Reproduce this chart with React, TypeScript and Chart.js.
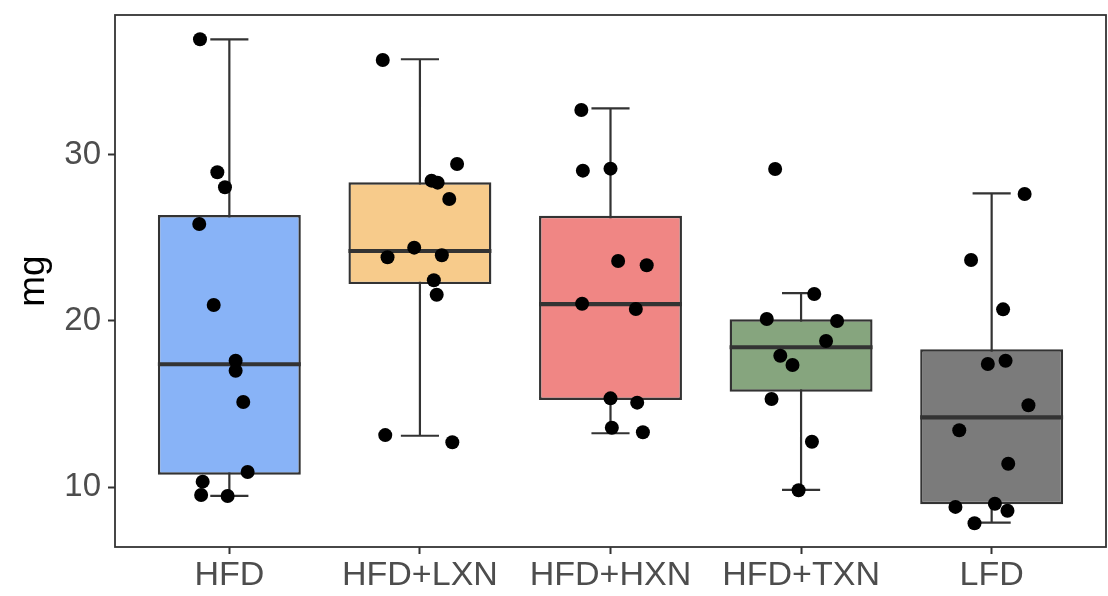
import React, { useEffect, useRef } from "react";
import { Chart, registerables } from "chart.js";

Chart.register(...registerables);

// Groups along the x axis
const categories = ["HFD", "HFD+LXN", "HFD+HXN", "HFD+TXN", "LFD"];
const boxFills = ["#88b3f7", "#f7cb8b", "#f08684", "#86a57e", "#7b7b7b"];

// Box-plot summaries per group (mg)
const whiskerLow = [9.48, 13.1, 13.25, 9.84, 7.87];
const quartile1 = [10.76, 22.22, 15.25, 15.75, 8.98];
const medians = [17.4, 24.21, 21.02, 18.42, 14.21];
const quartile3 = [26.37, 28.34, 26.33, 20.1, 18.3];
const whiskerHigh = [36.94, 35.74, 32.79, 21.67, 27.68];

// Individual measurements per group and their horizontal jitter
const hfdValues = [36.94, 28.94, 28.04, 25.83, 20.96, 17.61, 17.01, 15.13, 10.92, 10.34, 9.54, 9.48];
const hfdJitter = [-0.154, -0.063, -0.023, -0.158, -0.082, 0.033, 0.033, 0.073, 0.096, -0.14, -0.148, -0.009];
const lxnValues = [35.69, 29.44, 28.44, 28.32, 27.34, 24.41, 23.95, 23.83, 22.45, 21.58, 13.14, 12.71];
const lxnJitter = [-0.195, 0.195, 0.061, 0.093, 0.154, -0.03, 0.115, -0.17, 0.073, 0.088, -0.182, 0.17];
const hxnValues = [32.69, 29.04, 29.16, 23.61, 23.35, 21.04, 20.72, 15.35, 15.09, 13.58, 13.31];
const hxnJitter = [-0.153, -0.145, 0.0, 0.04, 0.19, -0.149, 0.133, 0.0, 0.14, 0.007, 0.17];
const txnValues = [29.14, 21.62, 20.12, 20.0, 18.8, 17.91, 17.35, 15.31, 12.74, 9.82];
const txnJitter = [-0.136, 0.069, -0.18, 0.189, 0.131, -0.109, -0.045, -0.155, 0.057, -0.013];
const lfdValues = [27.64, 23.67, 20.7, 17.41, 17.61, 14.93, 13.43, 11.42, 8.82, 9.01, 8.59, 7.84];
const lfdJitter = [0.173, -0.108, 0.06, -0.02, 0.073, 0.193, -0.17, 0.087, -0.19, 0.017, 0.083, -0.09];

const yTicks = [10, 20, 30];
const yMin = 6.41;
const yMax = 38.4;

const groupValues = [hfdValues, lxnValues, hxnValues, txnValues, lfdValues];
const groupJitter = [hfdJitter, lxnJitter, hxnJitter, txnJitter, lfdJitter];

const INK = "#333333";
const FONT = "'Liberation Sans', Arial, sans-serif";
const BOX_HALF = 0.375;
const CAP_HALF = 0.1;

const panelBorder = {
  id: "panelBorder",
  afterDatasetsDraw(chart: any) {
    const { ctx, chartArea } = chart;
    ctx.save();
    ctx.strokeStyle = INK;
    ctx.lineWidth = 1.8;
    ctx.strokeRect(chartArea.left, chartArea.top, chartArea.right - chartArea.left, chartArea.bottom - chartArea.top);
    ctx.restore();
  },
};

export default function App() {
  const canvasRef = useRef<HTMLCanvasElement | null>(null);

  useEffect(() => {
    if (!canvasRef.current) return;

    const whiskerPts: any[] = [];
    const medianPts: any[] = [];
    categories.forEach((_, i) => {
      whiskerPts.push({ x: i, y: whiskerLow[i] }, { x: i, y: whiskerHigh[i] }, { x: i, y: null });
      whiskerPts.push({ x: i - CAP_HALF, y: whiskerLow[i] }, { x: i + CAP_HALF, y: whiskerLow[i] }, { x: i, y: null });
      whiskerPts.push({ x: i - CAP_HALF, y: whiskerHigh[i] }, { x: i + CAP_HALF, y: whiskerHigh[i] }, { x: i, y: null });
      medianPts.push({ x: i - BOX_HALF, y: medians[i] }, { x: i + BOX_HALF, y: medians[i] }, { x: i, y: null });
    });

    const dots: any[] = [];
    groupValues.forEach((vals, i) => {
      vals.forEach((v, k) => dots.push({ x: i + groupJitter[i][k], y: v }));
    });

    const chart = new Chart(canvasRef.current, {
      type: "bar",
      data: {
        datasets: [
          {
            type: "scatter",
            data: dots,
            backgroundColor: "#000000",
            borderColor: "#000000",
            pointRadius: 7,
            pointHoverRadius: 7,
            borderWidth: 0,
            order: 0,
          } as any,
          {
            type: "line",
            data: medianPts,
            borderColor: INK,
            borderWidth: 4.2,
            borderCapStyle: "butt",
            pointRadius: 0,
            spanGaps: false,
            order: 1,
          } as any,
          {
            type: "bar",
            data: categories.map((_, i) => ({ x: i, y: [quartile1[i], quartile3[i]] })),
            backgroundColor: boxFills,
            borderColor: INK,
            borderWidth: 2.4,
            borderSkipped: false,
            barPercentage: 0.75,
            categoryPercentage: 1,
            order: 2,
          } as any,
          {
            type: "line",
            data: whiskerPts,
            borderColor: INK,
            borderWidth: 2.2,
            borderCapStyle: "butt",
            pointRadius: 0,
            spanGaps: false,
            order: 3,
          } as any,
        ],
      },
      options: {
        animation: false,
        responsive: true,
        maintainAspectRatio: false,
        layout: { autoPadding: false, padding: { top: 15, right: 2, left: 0, bottom: 0 } },
        plugins: { legend: { display: false }, tooltip: { enabled: false } },
        scales: {
          x: {
            type: "linear",
            offset: false,
            min: -0.6,
            max: 4.6,
            afterBuildTicks: (scale: any) => {
              scale.ticks = categories.map((_, i) => ({ value: i }));
            },
            afterFit: (scale: any) => {
              scale.height = 49;
              scale.paddingLeft = 0;
              scale.paddingRight = 0;
            },
            ticks: {
              callback: (v: any) => categories[v] ?? "",
              color: "#4d4d4d",
              font: { family: FONT, size: 34 },
              padding: 1,
              maxRotation: 0,
              autoSkip: false,
            },
            grid: { offset: false, drawOnChartArea: false, drawTicks: true, tickLength: 7, tickWidth: 2, color: INK },
            border: { display: false },
          },
          y: {
            type: "linear",
            min: yMin,
            max: yMax,
            afterBuildTicks: (scale: any) => {
              scale.ticks = yTicks.map((v) => ({ value: v }));
            },
            afterFit: (scale: any) => {
              scale.width = 115;
              scale.paddingTop = 0;
              scale.paddingBottom = 0;
            },
            ticks: {
              color: "#4d4d4d",
              font: { family: FONT, size: 33 },
              padding: 7,
            },
            grid: { drawOnChartArea: false, drawTicks: true, tickLength: 7, tickWidth: 2, color: INK },
            border: { display: false },
            title: {
              display: true,
              text: "mg",
              color: "#000000",
              font: { family: FONT, size: 37 },
              padding: { top: 12, bottom: 0 },
            },
          },
        },
      },
      plugins: [panelBorder],
    });

    return () => chart.destroy();
  }, []);

  return (
    <div style={{ position: "fixed", left: 0, top: 0, width: 1108, height: 596, background: "#ffffff" }}>
      <canvas ref={canvasRef} />
    </div>
  );
}
